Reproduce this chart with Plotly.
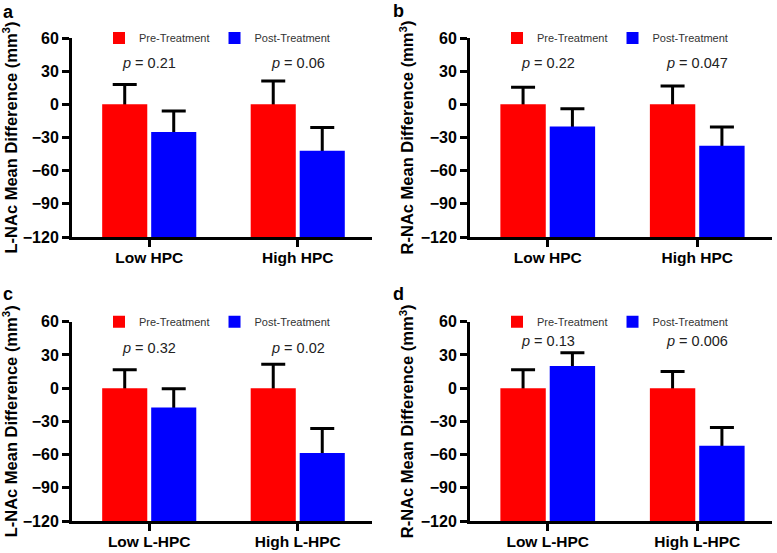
import plotly.graph_objects as go

W, H = 777, 553
FONT = "Liberation Sans, Arial, sans-serif"

# ---------------- data ----------------
cats_hpc = ["Low HPC", "High HPC"]
cats_lhpc = ["Low L-HPC", "High L-HPC"]

a_pre = [0, 0]
a_pre_err = [18, 21]
a_post = [-25, -42]
a_post_err = [19, 21]
a_p = ["0.21", "0.06"]

b_pre = [0, 0]
b_pre_err = [15.5, 16.5]
b_post = [-20, -37.5]
b_post_err = [16, 17]
b_p = ["0.22", "0.047"]

c_pre = [0, 0]
c_pre_err = [16.5, 21.5]
c_post = [-17.5, -58.5]
c_post_err = [17, 22]
c_p = ["0.32", "0.02"]

d_pre = [0, 0]
d_pre_err = [16.5, 15]
d_post = [20, -52]
d_post_err = [12, 16.5]
d_p = ["0.13", "0.006"]

p_label_y = [37, 37, 36, 43]
y_titles = ["L-NAc Mean Difference (mm<sup>3</sup>)",
            "R-NAc Mean Difference (mm<sup>3</sup>)",
            "L-NAc Mean Difference (mm<sup>3</sup>)",
            "R-NAc Mean Difference (mm<sup>3</sup>)"]
panel_letters = ["a", "b", "c", "d"]
y_ticks = [-120, -90, -60, -30, 0, 30, 60]
Y_MIN, Y_MAX = -120, 60

panels = [
    (cats_hpc, a_pre, a_pre_err, a_post, a_post_err, a_p),
    (cats_hpc, b_pre, b_pre_err, b_post, b_post_err, b_p),
    (cats_lhpc, c_pre, c_pre_err, c_post, c_post_err, c_p),
    (cats_lhpc, d_pre, d_pre_err, d_post, d_post_err, d_p),
]

# ---------------- layout geometry (window pixels) ----------------
x_dom_px = [(72, 372), (470, 772), (72, 372), (470, 772)]
y_dom_px = [(38, 237), (38, 237), (321.7, 521), (321.7, 521)]
letter_px = [(8, 12), (398, 11), (8, 294), (398, 294)]


def fx(px):
    return px / W


def fy(py):
    return 1 - py / H


RED = "#ff0000"
BLUE = "#0000ff"

fig = go.Figure()
layout = dict(
    width=W, height=H,
    margin=dict(l=0, r=0, t=0, b=0, autoexpand=False),
    paper_bgcolor="white", plot_bgcolor="white",
    barmode="group", bargap=0.34, bargroupgap=0.08,
    font=dict(family=FONT, color="black"),
    showlegend=True,
    annotations=[],
)

for k, (cats, pre, pre_err, post, post_err, pvals) in enumerate(panels):
    i = k + 1
    j = k + 5
    xs = "" if i == 1 else str(i)
    xa, ya = "x" + xs, "y" + xs
    xo, yo = "x" + str(j), "y" + str(j)
    leg = "legend" if i == 1 else "legend" + str(i)

    pre_len = [v - Y_MIN for v in pre]
    post_len = [v - Y_MIN for v in post]

    # error bars (drawn beneath the bars so only the upper half shows)
    for lens, errs, nm in [(pre_len, pre_err, "Pre-Treatment"), (post_len, post_err, "Post-Treatment")]:
        fig.add_trace(go.Bar(
            x=cats, y=lens, base=Y_MIN, xaxis=xa, yaxis=ya,
            marker=dict(color="rgba(0,0,0,0)", line=dict(width=0)),
            error_y=dict(type="data", array=errs, symmetric=True, color="black",
                         thickness=3, width=12),
            showlegend=False, hoverinfo="skip", name=nm,
        ))
    # visible bars on an overlaying axis pair
    fig.add_trace(go.Bar(
        x=cats, y=pre_len, base=Y_MIN, xaxis=xo, yaxis=yo, name="Pre-Treatment",
        marker=dict(color=RED, line=dict(width=0)), legend=leg,
        customdata=pre, hovertemplate="%{x}: %{customdata}<extra>Pre-Treatment</extra>",
    ))
    fig.add_trace(go.Bar(
        x=cats, y=post_len, base=Y_MIN, xaxis=xo, yaxis=yo, name="Post-Treatment",
        marker=dict(color=BLUE, line=dict(width=0)), legend=leg,
        customdata=post, hovertemplate="%{x}: %{customdata}<extra>Post-Treatment</extra>",
    ))

    x0, x1 = x_dom_px[k]
    y0, y1 = y_dom_px[k]
    xdom = [fx(x0), fx(x1)]
    ydom = [fy(y1), fy(y0)]
    xr = [-0.52, 1.5]

    layout["xaxis" + xs] = dict(
        domain=xdom, anchor=ya, type="category", categoryarray=cats, range=xr,
        showline=True, linecolor="black", linewidth=3,
        ticks="outside", ticklen=7, tickwidth=2.5, tickcolor="black",
        ticklabelstandoff=-3,
        tickfont=dict(family=FONT, size=15.5, color="black", weight="bold"),
        showgrid=False, zeroline=False, fixedrange=True,
    )
    layout["yaxis" + xs] = dict(
        domain=ydom, anchor=xa, range=[Y_MIN, Y_MAX], tickvals=y_ticks,
        showline=True, linecolor="black", linewidth=3,
        ticks="outside", ticklen=7, tickwidth=2.5, tickcolor="black",
        tickfont=dict(family=FONT, size=16, color="black", weight="bold"),
        title=dict(text=y_titles[k], font=dict(family=FONT, size=16.5, color="black", weight="bold"),
                   standoff=3),
        showgrid=False, zeroline=False, fixedrange=True,
    )
    layout["xaxis" + str(j)] = dict(
        overlaying=xa, anchor=yo, type="category", categoryarray=cats, range=xr,
        visible=False, fixedrange=True,
    )
    layout["yaxis" + str(j)] = dict(
        overlaying=ya, anchor=xo, range=[Y_MIN, Y_MAX], visible=False, fixedrange=True,
    )

    layout[leg] = dict(
        orientation="h", x=fx(x0 + 27), y=fy(y0), xanchor="left", yanchor="middle",
        font=dict(family=FONT, size=11, color="#333333"), bgcolor="rgba(0,0,0,0)",
        borderwidth=0, traceorder="normal",
    )

    for ci, c in enumerate(cats):
        layout["annotations"].append(dict(
            x=c, y=p_label_y[k], xref=xa, yref=ya, showarrow=False,
            text="<i>p</i> = " + pvals[ci],
            font=dict(family=FONT, size=14.5, color="#222222"),
        ))
    lx, ly = letter_px[k]
    layout["annotations"].append(dict(
        x=fx(lx), y=fy(ly), xref="paper", yref="paper", showarrow=False,
        text="<b>" + panel_letters[k] + "</b>", xanchor="center", yanchor="middle",
        font=dict(family=FONT, size=18, color="black"),
    ))

fig.update_layout(**layout)
# remove the browser's default 8px page margin so the figure fills the window exactly
fig.write_html("out.html", config={"displayModeBar": False},
               post_script="document.body.style.margin='0';")
